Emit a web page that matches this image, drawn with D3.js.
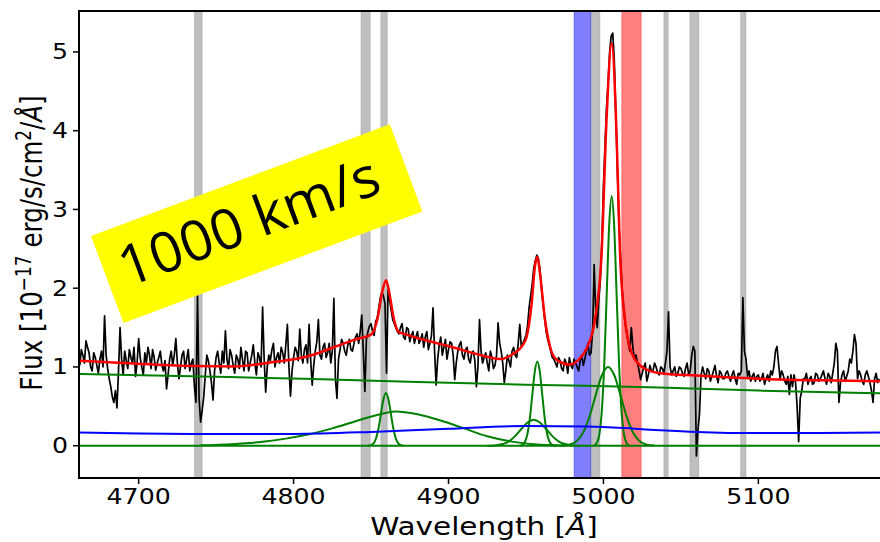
<!DOCTYPE html>
<html>
<head>
<meta charset="utf-8">
<script src="https://cdn.jsdelivr.net/npm/d3@7"></script>
<style>
    body { margin: 0; background: #fff; }
    svg { display: block; font-family: "DejaVu Sans", sans-serif; }
</style>
</head>
<body>
<div id="my_dataviz"></div>
<script>
// observed spectrum, one value per Å from 4662 Å (20 per row)
const waveStart = 4662;
const waveStep = 1;
const flux = [
    1.02, 1.22, 1.15, 1.05, 1.33, 1.25, 1.18, 1.00, 0.95, 1.18, 1.12, 1.02, 0.92, 1.10, 1.20, 1.00, 1.65, 1.15, 0.98, 0.85,
    0.75, 0.62, 0.55, 0.70, 0.48, 0.95, 1.50, 1.10, 0.90, 1.20, 1.08, 0.98, 1.22, 1.12, 1.05, 1.25, 0.88, 1.05, 1.36, 1.12,
    1.00, 0.90, 1.18, 1.05, 1.25, 1.15, 0.98, 1.22, 1.12, 0.96, 1.05, 1.12, 1.20, 1.02, 0.95, 1.08, 0.72, 0.90, 1.10, 1.20,
    1.02, 1.15, 1.36, 1.05, 0.85, 1.00, 1.15, 1.20, 0.98, 1.10, 1.22, 0.95, 1.05, 1.10, 0.75, 0.55, 1.90, 0.60, 0.30, 0.45,
    0.62, 0.90, 1.15, 1.08, 0.95, 0.80, 0.58, 0.95, 1.12, 1.20, 1.05, 0.92, 1.20, 1.05, 1.46, 1.10, 0.98, 1.22, 1.15, 1.02,
    0.92, 1.15, 1.10, 0.98, 1.25, 1.10, 0.95, 1.20, 1.18, 0.95, 1.05, 1.15, 1.28, 1.05, 0.90, 1.18, 1.12, 1.00, 1.76, 1.10,
    0.68, 1.00, 1.15, 1.08, 1.22, 1.30, 1.00, 1.12, 1.18, 1.05, 1.25, 1.18, 1.05, 1.28, 1.54, 1.00, 0.63, 0.95, 1.12, 1.25,
    1.20, 1.08, 1.48, 1.15, 1.05, 1.22, 1.28, 1.05, 1.54, 1.10, 0.77, 1.02, 1.20, 1.32, 1.60, 1.15, 1.10, 1.25, 1.30, 1.12,
    1.18, 1.30, 1.05, 1.20, 1.87, 0.85, 0.60, 1.10, 1.22, 1.35, 1.30, 1.20, 1.15, 1.28, 1.35, 1.22, 1.20, 1.30, 1.38, 1.42,
    1.30, 1.45, 1.66, 1.20, 0.69, 1.35, 1.45, 1.52, 1.55, 1.45, 1.40, 1.58, 1.62, 1.75, 1.88, 1.95, 1.90, 1.80, 0.92, 1.98,
    1.85, 1.72, 1.60, 1.55, 1.50, 1.45, 1.42, 1.50, 1.55, 1.38, 1.35, 1.50, 1.48, 1.32, 1.40, 1.45, 1.30, 1.38, 1.45, 1.30,
    1.35, 1.42, 1.25, 1.38, 1.45, 1.22, 1.30, 1.40, 1.75, 1.20, 0.77, 1.10, 1.28, 1.38, 1.15, 1.25, 1.35, 1.10, 1.22, 1.32,
    1.30, 1.15, 0.84, 1.05, 1.20, 1.28, 1.32, 1.15, 1.10, 1.22, 1.25, 1.10, 1.05, 1.18, 1.20, 1.08, 0.75, 1.00, 1.60, 1.20,
    1.05, 1.12, 1.18, 1.05, 0.95, 1.20, 1.12, 0.98, 1.02, 1.15, 1.56, 1.30, 1.20, 1.05, 0.80, 0.95, 1.15, 1.08, 1.00, 1.20,
    1.25, 1.15, 1.12, 1.30, 1.54, 1.25, 1.30, 1.35, 1.40, 1.52, 1.75, 1.90, 2.05, 2.25, 2.35, 2.42, 2.38, 2.25, 2.00, 1.80,
    1.62, 1.45, 1.35, 1.28, 1.20, 1.12, 1.10, 1.05, 1.00, 1.12, 1.08, 0.98, 0.95, 1.10, 1.05, 0.92, 1.12, 1.02, 0.98, 1.10,
    1.05, 1.00, 0.95, 1.08, 1.15, 1.02, 1.10, 1.20, 1.30, 1.15, 1.18, 1.45, 2.30, 1.70, 1.50, 1.85, 2.10, 2.60, 3.30, 3.80,
    4.30, 4.60, 5.00, 5.20, 5.24, 4.90, 4.20, 3.50, 2.80, 2.40, 2.00, 1.75, 1.55, 1.45, 1.30, 1.20, 1.50, 1.25, 1.10, 1.15,
    1.05, 0.95, 0.84, 0.92, 1.00, 1.05, 0.82, 0.90, 1.02, 0.95, 0.95, 1.05, 1.00, 0.92, 0.90, 1.00, 0.98, 0.92, 1.05, 1.20,
    1.70, 1.00, 0.90, 0.95, 1.00, 0.88, 0.92, 1.00, 0.98, 0.92, 0.88, 0.98, 1.05, 0.90, 0.95, 1.15, 1.26, 1.20, -0.13, 0.20,
    0.40, 0.90, 1.00, 0.92, 0.85, 0.98, 0.95, 0.82, 0.88, 0.95, 1.02, 0.88, 0.80, 0.95, 0.92, 0.85, 0.85, 0.92, 0.95, 0.88,
    0.82, 0.90, 0.95, 0.85, 0.78, 0.92, 0.90, 0.95, 1.88, 1.20, 1.10, 0.88, 0.95, 0.82, 0.88, 0.92, 0.82, 0.88, 0.90, 0.82,
    0.85, 0.92, 0.78, 0.85, 0.90, 0.82, 0.95, 0.90, 1.00, 1.20, 1.26, 1.05, 0.85, 0.95, 0.90, 0.82, 0.78, 0.88, 0.65, 0.90,
    0.75, 0.90, 0.80, 0.50, 0.05, 0.60, 0.70, 0.85, 0.85, 0.92, 0.78, 0.85, 0.88, 0.78, 0.80, 0.92, 0.90, 0.82, 0.85, 0.90,
    0.95, 0.85, 0.78, 0.92, 0.88, 0.80, 0.92, 1.05, 1.30, 1.20, 0.55, 0.80, 0.90, 0.95, 0.82, 0.88, 0.95, 1.10, 1.05, 1.20,
    1.41, 1.30, 0.85, 0.95, 0.90, 0.82, 0.78, 0.90, 0.95, 0.88, 0.80, 0.70, 0.55, 0.85, 0.92, 0.80, 0.85
];

// fitted model pieces, [wavelength, flux]
const totalModel = [
    [4662, 1.08], [4690, 1.05], [4715, 1.025], [4736, 1.012], [4762, 1.007], [4786, 1.06],
    [4810, 1.14], [4826, 1.25], [4840, 1.35], [4850, 1.41], [4854, 1.6], [4857.5, 1.98],
    [4859.7, 2.1], [4861.8, 1.94], [4864.4, 1.64], [4867.6, 1.45], [4873, 1.41], [4901, 1.26],
    [4925, 1.13], [4933, 1.10], [4942, 1.17], [4948, 1.28], [4950.4, 1.38], [4953.7, 1.81],
    [4955.8, 2.28], [4957.3, 2.4], [4959, 2.19], [4962.3, 1.6], [4965.5, 1.26], [4969.8, 1.09],
    [4978.4, 1.03], [4983.8, 1.09], [4989.2, 1.24], [4994.5, 1.6], [4998.8, 2.44], [5002, 4.14],
    [5005.3, 5.11], [5008.5, 3.93], [5010.7, 2.44], [5013.9, 1.6], [5018.2, 1.18], [5025.7, 0.99],
    [5036.5, 0.92], [5060, 0.89], [5100, 0.85], [5140, 0.83], [5178.5, 0.82]
];
const continuum = [
    [4661.5, 0.91], [4750, 0.875], [4807, 0.85], [4880, 0.81], [4950, 0.775],
    [5036, 0.74], [5100, 0.70], [5178.5, 0.665]
];
const ironTemplate = [
    [4661.5, 0.169], [4700, 0.155], [4740, 0.148], [4800, 0.15], [4850, 0.175], [4900, 0.215],
    [4950, 0.25], [4990, 0.245], [5025, 0.21], [5060, 0.175], [5100, 0.16], [5140, 0.162], [5178.5, 0.169]
];
const zeroLevel = [[4661.5, 0], [5178.5, 0]];
const broadHb = [
    [4740, 0.005], [4760, 0.02], [4780, 0.05], [4795, 0.09], [4810, 0.145], [4825, 0.22],
    [4840, 0.31], [4852, 0.38], [4866, 0.436], [4880, 0.40], [4895, 0.32], [4910, 0.22],
    [4925, 0.12], [4940, 0.055], [4955, 0.02], [4975, 0.004]
];
const narrowHb = [
    [4848, 0], [4850, 0.007], [4851.6, 0.029], [4853.2, 0.091], [4854.8, 0.218], [4856.4, 0.406],
    [4858, 0.591], [4859.6, 0.67], [4861.2, 0.591], [4862.8, 0.406], [4864.4, 0.218],
    [4866, 0.091], [4867.6, 0.029], [4869.2, 0.007], [4871, 0]
];
const narrowO4959 = [
    [4946, 0], [4947.7, 0.012], [4949.3, 0.047], [4950.9, 0.145], [4952.5, 0.347], [4954.1, 0.649],
    [4955.7, 0.945], [4957.3, 1.07], [4958.9, 0.945], [4960.5, 0.649], [4962.1, 0.347],
    [4963.7, 0.145], [4965.3, 0.047], [4966.9, 0.012], [4969, 0]
];
const broadO4959 = [
    [4925, 0.001], [4930, 0.004], [4935, 0.021], [4939, 0.056], [4943, 0.122], [4947, 0.212],
    [4951, 0.295], [4955, 0.33], [4959, 0.295], [4963, 0.212], [4967, 0.122], [4971, 0.056],
    [4975, 0.021], [4980, 0.004], [4985, 0.001]
];
const narrowO5007 = [
    [4993.9, 0], [4995.7, 0.035], [4997.3, 0.139], [4998.9, 0.43], [5000.5, 1.03], [5002.1, 1.92],
    [5003.7, 2.8], [5005.3, 3.17], [5006.9, 2.8], [5008.5, 1.92], [5010.1, 1.03],
    [5011.7, 0.43], [5013.3, 0.139], [5014.9, 0.035], [5016.7, 0]
];
const broadO5007 = [
    [4973, 0.002], [4978, 0.013], [4983, 0.063], [4987, 0.17], [4991, 0.369], [4995, 0.642],
    [4999, 0.895], [5003, 1.0], [5007, 0.895], [5011, 0.642], [5015, 0.369], [5019, 0.17],
    [5023, 0.063], [5028, 0.013], [5033, 0.002]
];

// masked windows [from, to] in Å
const grayBands = [
    [4736, 4741], [4843.5, 4849.5], [4856.3, 4860.5], [4991.8, 4997.7],
    [5039, 5041.8], [5055.8, 5061.6], [5088.5, 5092]
];
const blueBand = [4981, 4991.8];
const redBand = [5011.8, 5024.4];

const xTicks = [4700, 4800, 4900, 5000, 5100];
const yTicks = [0, 1, 2, 3, 4, 5];
const noteText = "1000 km/s";

class SpectrumPlot {
    constructor() {
        this.init();
    }

    init() {
        this.width = 880;
        this.height = 542;
        this.stretch = 1.23;

        this.svg = d3.select("#my_dataviz")
            .append("svg")
            .attr("width", this.width)
            .attr("height", this.height);

        this.x = d3.scaleLinear()
            .domain([4661.5, 5178.5])
            .range([79, 880]);
        this.y = d3.scaleLinear()
            .domain([-0.41, 5.52])
            .range([478, 11]);

        this.svg.append("clipPath")
            .attr("id", "plotclip")
            .append("rect")
            .attr("x", 79).attr("y", 11)
            .attr("width", 801).attr("height", 467);
    }

    build() {
        let x = this.x;
        let y = this.y;
        let s = this.stretch;
        let svg = this.svg;

        let plot = svg.append("g").attr("clip-path", "url(#plotclip)");

        // shaded windows
        let bandRect = function(band, color, opacity) {
            plot.append("rect")
                .attr("x", x(band[0]))
                .attr("y", y.range()[1])
                .attr("width", x(band[1]) - x(band[0]))
                .attr("height", y.range()[0] - y.range()[1])
                .attr("fill", color)
                .attr("fill-opacity", opacity)
                .attr("stroke", color)
                .attr("stroke-opacity", opacity * 0.6)
                .attr("stroke-width", 1);
        };
        grayBands.forEach(function(b) { bandRect(b, "#808080", 0.5); });
        bandRect(blueBand, "#0000ff", 0.5);
        bandRect(redBand, "#ff0000", 0.5);

        let straight = d3.line()
            .x(function(d) { return x(d[0]); })
            .y(function(d) { return y(d[1]); });
        let smooth = d3.line()
            .x(function(d) { return x(d[0]); })
            .y(function(d) { return y(d[1]); })
            .curve(d3.curveMonotoneX);

        let spectrum = flux.map(function(f, i) { return [waveStart + i * waveStep, f]; });

        plot.append("path")
            .datum(spectrum)
            .attr("d", straight)
            .attr("fill", "none")
            .attr("stroke", "#000")
            .attr("stroke-width", 1.7)
            .attr("stroke-linejoin", "round");

        let greens = [zeroLevel, continuum, broadHb, narrowHb, broadO4959, narrowO4959, broadO5007, narrowO5007];
        greens.forEach(function(g) {
            plot.append("path")
                .datum(g)
                .attr("d", smooth)
                .attr("fill", "none")
                .attr("stroke", "#008000")
                .attr("stroke-width", 2);
        });

        plot.append("path")
            .datum(ironTemplate)
            .attr("d", smooth)
            .attr("fill", "none")
            .attr("stroke", "#0000ff")
            .attr("stroke-width", 2);

        plot.append("path")
            .datum(totalModel)
            .attr("d", smooth)
            .attr("fill", "none")
            .attr("stroke", "#ff0000")
            .attr("stroke-width", 2.5);

        // spines
        svg.append("path")
            .attr("d", "M880,11 H79 V478 H880")
            .attr("fill", "none")
            .attr("stroke", "#000")
            .attr("stroke-width", 2);

        // ticks
        svg.selectAll(".xtick")
            .data(xTicks)
            .enter()
            .append("line")
            .attr("x1", function(d) { return x(d); })
            .attr("x2", function(d) { return x(d); })
            .attr("y1", 478).attr("y2", 484)
            .attr("stroke", "#000").attr("stroke-width", 1.5);
        svg.selectAll(".xlab")
            .data(xTicks)
            .enter()
            .append("text")
            .attr("transform", function(d) { return "translate(" + x(d) + ",503.5) scale(" + s + ",1)"; })
            .attr("text-anchor", "middle")
            .attr("font-size", 20.5)
            .text(function(d) { return d; });

        svg.selectAll(".ytick")
            .data(yTicks)
            .enter()
            .append("line")
            .attr("x1", 73).attr("x2", 79)
            .attr("y1", function(d) { return y(d); })
            .attr("y2", function(d) { return y(d); })
            .attr("stroke", "#000").attr("stroke-width", 1.5);
        svg.selectAll(".ylab")
            .data(yTicks)
            .enter()
            .append("text")
            .attr("transform", function(d) { return "translate(68," + (y(d) + 7.5) + ") scale(" + s + ",1)"; })
            .attr("text-anchor", "end")
            .attr("font-size", 20.5)
            .text(function(d) { return d; });

        // axis titles
        let xt = svg.append("text")
            .attr("transform", "translate(484,535) scale(" + s + ",1)")
            .attr("text-anchor", "middle")
            .attr("font-size", 24);
        xt.append("tspan").text("Wavelength [");
        xt.append("tspan").attr("font-style", "italic").text("Å");
        xt.append("tspan").text("]");

        let yt = svg.append("text")
            .attr("transform", "translate(42,243) scale(" + s + ",1) rotate(-90)")
            .attr("text-anchor", "middle")
            .attr("font-size", 24.5);
        yt.append("tspan").text("Flux [10");
        yt.append("tspan").attr("font-size", 17).attr("dy", -9).text("\u221217");
        yt.append("tspan").attr("dy", 9).text(" erg/s/cm");
        yt.append("tspan").attr("font-size", 17).attr("dy", -9).text("2");
        yt.append("tspan").attr("dy", 9).text("/");
        yt.append("tspan").attr("font-style", "italic").text("Å");
        yt.append("tspan").text("]");

        // yellow note
        let note = svg.append("g")
            .attr("transform", "translate(91,236) rotate(-20.5)");
        note.append("rect")
            .attr("width", 319)
            .attr("height", 93)
            .attr("fill", "#ffff00");
        note.append("text")
            .attr("x", 153)
            .attr("y", 61)
            .attr("text-anchor", "middle")
            .attr("font-family", "'Open Sans', sans-serif")
            .attr("font-size", 56)
            .attr("textLength", 274)
            .attr("lengthAdjust", "spacingAndGlyphs")
            .attr("fill", "#000")
            .text(noteText);
    }
}

let chart = new SpectrumPlot();
chart.build();
</script>
</body>
</html>
